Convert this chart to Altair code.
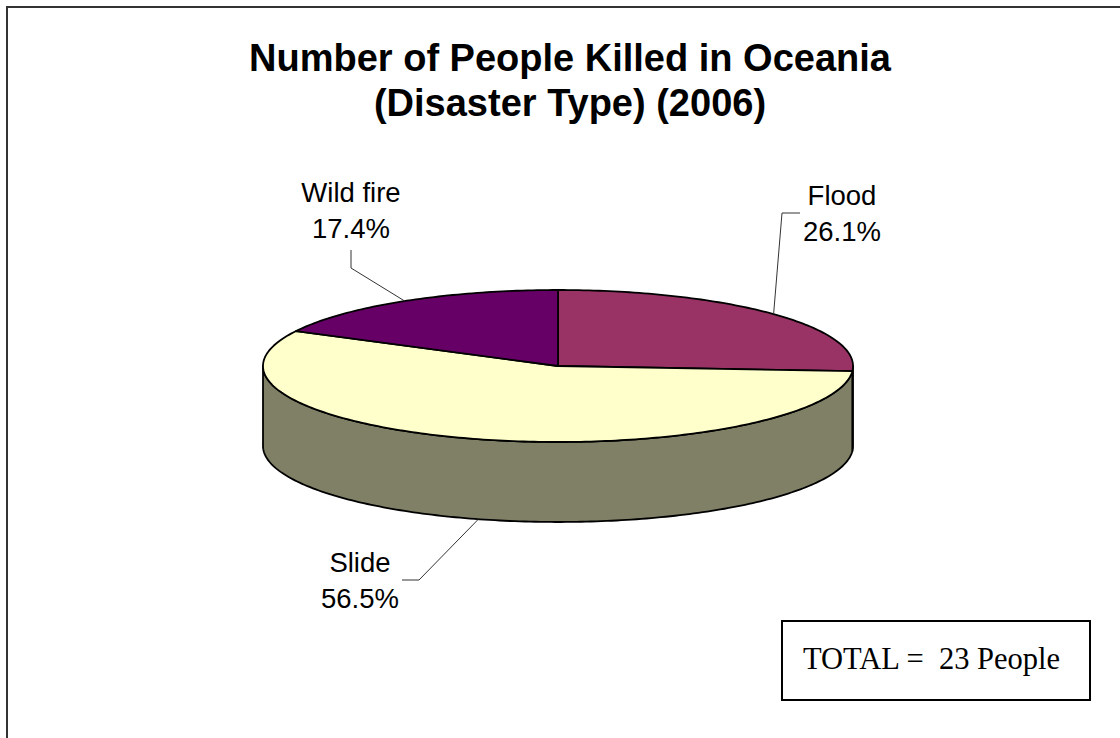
import math

import altair as alt
import pandas as pd

# ---- data -------------------------------------------------------------
categories = ["Flood", "Slide", "Wild fire"]
people = [6, 13, 4]
top_colors = ["#993366", "#FFFFCC", "#660066"]
side_colors = ["#4D1A33", "#808066", "#330033"]

title_lines = ["Number of People Killed in Oceania", "(Disaster Type) (2006)"]
total_label = "TOTAL =\u00a0 23 People"

# ---- layout (pixels) --------------------------------------------------
W, H = 1120, 738
CX, CY, RX, RY, DEPTH = 558, 366, 295, 76, 80
label_xy = {"Flood": (842, 205), "Slide": (360, 572), "Wild fire": (351, 202)}
label_gap = 36
leader_elbow = {
    "Flood": [(800, 213), (782, 213)],
    "Slide": [(402, 580), (419, 580)],
    "Wild fire": [(351, 250), (351, 268)],
}
title_xy = (570, 71)
title_gap = 45
frame_box = [(7, 7), (1140, 7), (1140, 760), (7, 760)]
total_box = [(782, 621), (1090, 621), (1090, 700), (782, 700)]
total_xy = (803, 669)


def point(angle, drop=0.0):
    """Point on the rim of the tilted disc; angle clockwise from 12 o'clock."""
    a = math.radians(angle)
    return [CX + RX * math.sin(a), CY - RY * math.cos(a) + drop]


def rim(a0, a1, drop=0.0):
    n = max(2, int(math.ceil(abs(a1 - a0))) + 1)
    return [point(a0 + (a1 - a0) * i / (n - 1), drop) for i in range(n)]


def feature(coords, kind, fill="none", name=""):
    return {
        "type": "Feature",
        "geometry": {"type": kind, "coordinates": coords},
        "properties": {"fill": fill, "name": name},
    }


# ---- slice geometry from the counts -----------------------------------
total = sum(people)
walls, tops, leaders, labels = [], [], [], []
cum = 0
for name, v, top_c, side_c in zip(categories, people, top_colors, side_colors):
    a0 = 360.0 * cum / total
    a1 = 360.0 * (cum + v) / total
    cum += v
    # visible front wall of the slice
    lo, hi = max(a0, 90.0), min(a1, 270.0)
    if hi > lo:
        ring = rim(lo, hi) + rim(hi, lo, DEPTH)
        ring.append(ring[0])
        walls.append(feature([ring], "Polygon", side_c, name))
    # top face
    ring = [[CX, CY]] + rim(a0, a1) + [[CX, CY]]
    tops.append(feature([ring], "Polygon", top_c, name))
    # leader line to the rim at the slice's middle angle
    mid = (a0 + a1) / 2
    drop = DEPTH if 90 < mid < 270 else 0
    path = [list(p) for p in leader_elbow[name]] + [point(mid, drop)]
    leaders.append(feature(path, "LineString"))
    # label text
    lx, ly = label_xy[name]
    labels.append({"lon": lx, "lat": ly, "text": name})
    labels.append({"lon": lx, "lat": ly + label_gap, "text": f"{100 * v / total:.1f}%"})

proj = dict(type="identity", scale=1, translate=[0, 0])

frame = (
    alt.Chart(alt.Data(values=[feature([[list(p) for p in frame_box] + [list(frame_box[0])]], "Polygon")]))
    .mark_geoshape(filled=False, stroke="#333333", strokeWidth=2)
    .project(**proj)
)

pie = (
    alt.Chart(alt.Data(values=walls + tops))
    .mark_geoshape(stroke="black", strokeWidth=1.8, strokeJoin="round")
    .encode(fill=alt.Fill("properties.fill:N", scale=None))
    .project(**proj)
)

leader_lines = (
    alt.Chart(alt.Data(values=leaders))
    .mark_geoshape(filled=False, stroke="#333333", strokeWidth=1)
    .project(**proj)
)

label_text = (
    alt.Chart(pd.DataFrame(labels))
    .mark_text(font="Liberation Sans", fontSize=27.5, color="black", align="center", baseline="alphabetic")
    .encode(longitude="lon:Q", latitude="lat:Q", text="text:N")
    .project(**proj)
)

title_df = pd.DataFrame(
    {
        "lon": [title_xy[0]] * len(title_lines),
        "lat": [title_xy[1] + i * title_gap for i in range(len(title_lines))],
        "text": title_lines,
    }
)
title_text = (
    alt.Chart(title_df)
    .mark_text(font="Liberation Sans", fontSize=38, fontWeight="bold", color="black",
               align="center", baseline="alphabetic")
    .encode(longitude="lon:Q", latitude="lat:Q", text="text:N")
    .project(**proj)
)

box = (
    alt.Chart(alt.Data(values=[feature([[list(p) for p in total_box] + [list(total_box[0])]], "Polygon", "white")]))
    .mark_geoshape(stroke="black", strokeWidth=2)
    .encode(fill=alt.Fill("properties.fill:N", scale=None))
    .project(**proj)
)

box_text = (
    alt.Chart(pd.DataFrame({"lon": [total_xy[0]], "lat": [total_xy[1]], "text": [total_label]}))
    .mark_text(font="Liberation Serif", fontSize=30.5, color="black", align="left", baseline="alphabetic")
    .encode(longitude="lon:Q", latitude="lat:Q", text="text:N")
    .project(**proj)
)

chart = (
    alt.layer(frame, pie, leader_lines, label_text, title_text, box, box_text)
    .properties(width=W, height=H, autosize=alt.AutoSizeParams(type="none"), padding=0, background="white")
    .configure_view(stroke=None)
)

chart.save("out.html", embed_options={"renderer": "svg", "actions": False})
